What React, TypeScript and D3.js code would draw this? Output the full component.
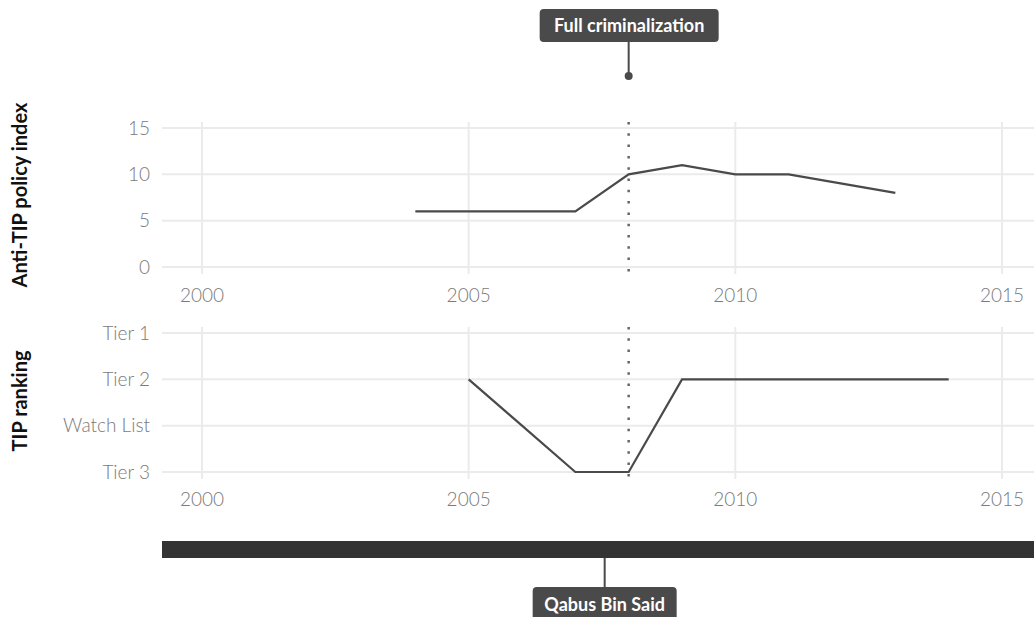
import React from "react";
import * as d3 from "d3";

const policyYears = [2004, 2005, 2006, 2007, 2008, 2009, 2010, 2011, 2012, 2013];
const policyValues = [6, 6, 6, 6, 10, 11, 10, 10, 9, 8];
const rankYears = [2005, 2006, 2007, 2008, 2009, 2010, 2011, 2012, 2013, 2014];
const rankValues = ["Tier 2", "Watch List", "Tier 3", "Tier 3", "Tier 2", "Tier 2", "Tier 2", "Tier 2", "Tier 2", "Tier 2"];
const rankLevels = ["Tier 3", "Watch List", "Tier 2", "Tier 1"];
const policyTicks = [0, 5, 10, 15];
const yearTicks = [2000, 2005, 2010, 2015];
const eventYear = 2008;
const eventLabel = "Full criminalization";
const leaderName = "Qabus Bin Said";
const leaderStart = 1970;
const leaderEnd = 2020;
const leaderLabelYear = 2007.55;

const W = 1034;
const H = 617;
const FONT = "Lato, 'Open Sans', sans-serif";

export default function App() {
  const x = d3.scaleLinear().domain([2000, 2015]).range([202, 1002]);
  const plotLeft = 162;
  const plotRight = W;
  const yTop = d3.scaleLinear().domain([0, 15]).range([267, 128]);
  const topPanel = [122, 274];
  const yRank = d3.scalePoint<string>().domain(rankLevels).range([472, 333]);
  const botPanel = [327, 479];

  const lineTop = d3.line<number>().x((_, i) => x(policyYears[i])).y((d) => yTop(d));
  const lineBot = d3.line<string>().x((_, i) => x(rankYears[i])).y((d) => yRank(d) as number);

  const grid = "#ebebeb";
  const tickColor = "#7a7a7a";
  const dark = "#4a4a4a";
  const ex = x(eventYear);
  const lx = x(leaderLabelYear);
  const barX0 = Math.max(plotLeft, x(leaderStart));
  const barX1 = Math.min(plotRight, x(leaderEnd));
  const TICK = 19;

  return (
    <svg width={W} height={H} style={{ position: "absolute", left: 0, top: 0, background: "#fff" }} fontFamily={FONT}>
      {/* top panel */}
      <g>
        {policyTicks.map((t) => (
          <line key={t} x1={plotLeft} x2={plotRight} y1={yTop(t)} y2={yTop(t)} stroke={grid} strokeWidth={2} />
        ))}
        {yearTicks.map((t) => (
          <line key={t} x1={x(t)} x2={x(t)} y1={topPanel[0]} y2={topPanel[1]} stroke={grid} strokeWidth={2} />
        ))}
        {policyTicks.map((t) => (
          <text key={t} x={150} y={yTop(t)} dy="0.35em" textAnchor="end" fontSize={TICK} fontWeight={300} fill={tickColor}>{t}</text>
        ))}
        {yearTicks.map((t) => (
          <text key={t} x={x(t)} y={302} textAnchor="middle" fontSize={TICK} fontWeight={300} fill={tickColor}>{t}</text>
        ))}
        <line x1={ex} x2={ex} y1={topPanel[0]} y2={topPanel[1]} stroke="#666" strokeWidth={2.5} strokeDasharray="2.5,8.8" />
        <path d={lineTop(policyValues) || ""} fill="none" stroke={dark} strokeWidth={2.2} />
        <text transform={`translate(27,${195}) rotate(-90)`} textAnchor="middle" fontSize={20} fontWeight={700} fill="#111">Anti-TIP policy index</text>
      </g>
      {/* bottom panel */}
      <g>
        {rankLevels.map((t) => (
          <line key={t} x1={plotLeft} x2={plotRight} y1={yRank(t)} y2={yRank(t)} stroke={grid} strokeWidth={2} />
        ))}
        {yearTicks.map((t) => (
          <line key={t} x1={x(t)} x2={x(t)} y1={botPanel[0]} y2={botPanel[1]} stroke={grid} strokeWidth={2} />
        ))}
        {rankLevels.map((t) => (
          <text key={t} x={150} y={yRank(t)} dy="0.35em" textAnchor="end" fontSize={TICK} fontWeight={300} fill={tickColor}>{t}</text>
        ))}
        {yearTicks.map((t) => (
          <text key={t} x={x(t)} y={506} textAnchor="middle" fontSize={TICK} fontWeight={300} fill={tickColor}>{t}</text>
        ))}
        <line x1={ex} x2={ex} y1={botPanel[0]} y2={botPanel[1]} stroke="#666" strokeWidth={2.5} strokeDasharray="2.5,8.8" />
        <path d={lineBot(rankValues) || ""} fill="none" stroke={dark} strokeWidth={2.2} />
        <text transform={`translate(27,${401}) rotate(-90)`} textAnchor="middle" fontSize={20} fontWeight={700} fill="#111">TIP ranking</text>
      </g>
      {/* event annotation */}
      <g>
        <line x1={ex} x2={ex} y1={42} y2={76} stroke={dark} strokeWidth={2} />
        <circle cx={ex} cy={76} r={4} fill={dark} />
        <rect x={ex - 89} y={9} width={179} height={33} rx={4} fill={dark} />
        <text x={ex + 0.5} y={26} dy="0.35em" textAnchor="middle" fontSize={18} fontWeight={700} fill="#fff">{eventLabel}</text>
      </g>
      {/* leader bar */}
      <g>
        <rect x={barX0} y={541} width={barX1 - barX0} height={17} fill="#333" />
        <line x1={lx} x2={lx} y1={558} y2={587} stroke={dark} strokeWidth={2} />
        <rect x={lx - 72} y={587} width={144} height={36} rx={4} fill={dark} />
        <text x={lx} y={605} dy="0.35em" textAnchor="middle" fontSize={18} fontWeight={700} fill="#fff">{leaderName}</text>
      </g>
    </svg>
  );
}
